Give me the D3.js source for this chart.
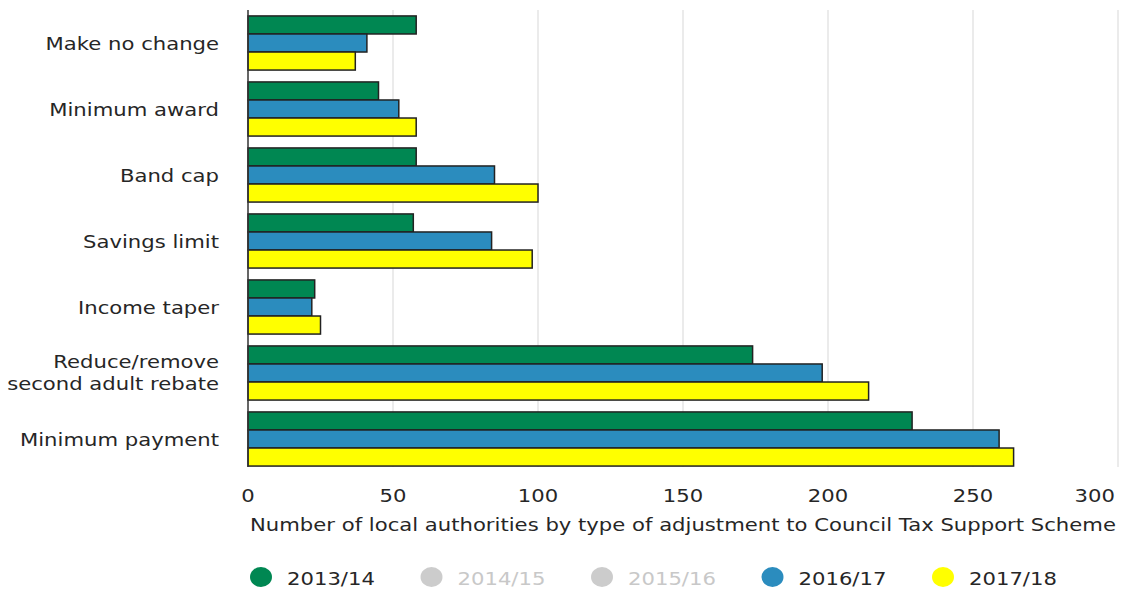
<!DOCTYPE html>
<html>
<head>
<meta charset="utf-8">
<script src="https://cdn.jsdelivr.net/npm/d3@7"></script>
<style>
  body { margin: 0; background: #fff; }
  text { font-family: "DejaVu Sans", Verdana, sans-serif; fill: #262626; }
</style>
</head>
<body>
<div id="container"></div>
<script>
const width = 1124;
const height = 590;

// Categories (top to bottom)
const categories = ["Make no change", "Minimum award", "Band cap", "Savings limit",
	"Income taper", "Reduce/remove second adult rebate", "Minimum payment"];
const categoryLines = [["Make no change"], ["Minimum award"], ["Band cap"], ["Savings limit"],
	["Income taper"], ["Reduce/remove", "second adult rebate"], ["Minimum payment"]];

// Series shown as bars
const series = ["2013/14", "2016/17", "2017/18"];
const values2013 = [58, 45, 58, 57, 23, 174, 229];
const values2016 = [41, 52, 85, 84, 22, 198, 259];
const values2017 = [37, 58, 100, 98, 25, 214, 264];

// Legend entries (two years are switched off)
const legendItems = ["2013/14", "2014/15", "2015/16", "2016/17", "2017/18"];
const legendActive = [true, false, false, true, true];
const colors = {"2013/14": "#008752", "2014/15": "#cccccc", "2015/16": "#cccccc",
	"2016/17": "#2b8cbe", "2017/18": "#ffff00"};

const xTicks = [0, 50, 100, 150, 200, 250, 300];
const axisTitle = "Number of local authorities by type of adjustment to Council Tax Support Scheme";

const SX = 1.245; // text is drawn wide in the original
const fontSize = 17;

let rows = categories.map((c, i) => ({
	cat: c,
	vals: [values2013[i], values2016[i], values2017[i]]
}));

let svg = d3.select("#container")
	.append("svg")
	.attr("width", width)
	.attr("height", height);

let x = d3.scaleLinear().domain([0, 300]).range([248, 1118]);
let y0 = d3.scaleBand().domain(categories).range([10, 472])
	.paddingInner(0.18).paddingOuter(0.09);
let y1 = d3.scaleBand().domain(series).range([0, y0.bandwidth()]);

// helper for stretched text
function stretched(sel, px, py, anchor) {
	return sel.attr("transform", "translate(" + px + "," + py + ") scale(" + SX + ",1)")
		.attr("text-anchor", anchor)
		.style("font-size", fontSize + "px");
}

// Grid lines
svg.append("g").selectAll("line")
	.data(xTicks.slice(1))
	.enter()
	.append("line")
	.attr("x1", d => x(d)).attr("x2", d => x(d))
	.attr("y1", 10).attr("y2", 467)
	.attr("stroke", "#e4e4e4")
	.attr("stroke-width", 1.5);

// Bars
let groups = svg.append("g").selectAll("g")
	.data(rows)
	.enter()
	.append("g")
	.attr("transform", d => "translate(0," + y0(d.cat) + ")");

groups.selectAll("rect")
	.data(d => d.vals.map((v, k) => ({ key: series[k], value: v })))
	.enter()
	.append("rect")
	.attr("x", x(0))
	.attr("y", d => y1(d.key))
	.attr("width", d => x(d.value) - x(0))
	.attr("height", y1.bandwidth())
	.attr("fill", d => colors[d.key])
	.attr("stroke", "#222")
	.attr("stroke-width", 1.5);

// Axis line
svg.append("line")
	.attr("x1", x(0)).attr("x2", x(0))
	.attr("y1", 10).attr("y2", 467)
	.attr("stroke", "#333")
	.attr("stroke-width", 1.5);

// Category labels
categories.forEach((c, i) => {
	let lines = categoryLines[i];
	let cy = y0(c) + y0.bandwidth() / 2;
	let start = lines.length === 1 ? cy + 7 : cy - 5;
	lines.forEach((ln, j) => {
		stretched(svg.append("text"), 219, start + j * 22, "end").text(ln);
	});
});

// X tick labels
xTicks.forEach((t, i) => {
	let last = i === xTicks.length - 1;
	stretched(svg.append("text"), last ? x(t) - 3 : x(t), 502, last ? "end" : "middle").text(t);
});

// Axis title
stretched(svg.append("text"), 250, 531, "start").text(axisTitle);

// Legend
let legend = svg.append("g").selectAll("g")
	.data(legendItems)
	.enter()
	.append("g")
	.attr("transform", (d, i) => "translate(" + (261 + i * 170.5) + ",577)");

legend.append("ellipse")
	.attr("rx", 11).attr("ry", 10)
	.attr("fill", d => colors[d]);

legend.each(function(d, i) {
	stretched(d3.select(this).append("text"), 26, 8, "start")
		.style("fill", legendActive[i] ? "#262626" : "#c8c8c8")
		.text(d);
});
</script>
</body>
</html>
